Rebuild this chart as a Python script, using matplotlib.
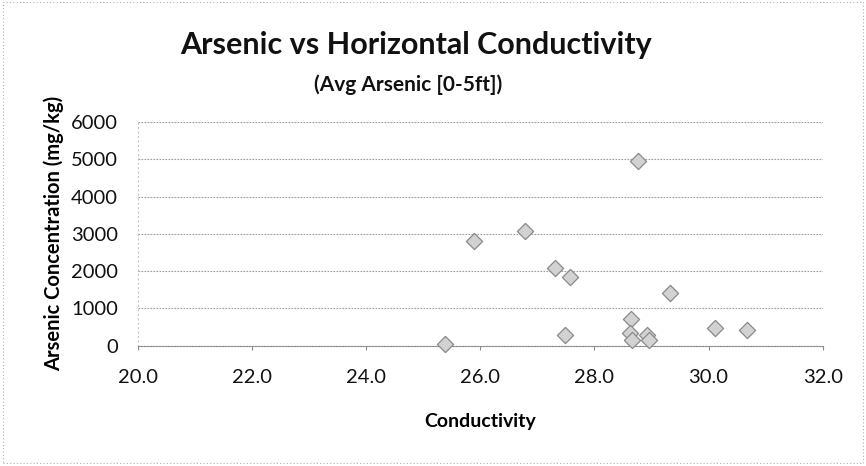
import matplotlib
matplotlib.use("Agg")
import matplotlib.pyplot as plt
from matplotlib.patches import Rectangle

plt.rcParams["font.family"] = ["Lato", "DejaVu Sans"]

# conductivity vs average arsenic (0-5 ft)
conductivity = [25.38, 25.89, 26.78, 27.31, 27.58, 27.48, 28.76, 28.64,
                28.62, 28.66, 28.92, 28.95, 29.32, 30.11, 30.67]
arsenic = [60, 2810, 3080, 2090, 1850, 290, 4950, 720,
           330, 150, 280, 150, 1410, 480, 420]

x_ticks = [20.0, 22.0, 24.0, 26.0, 28.0, 30.0, 32.0]
y_ticks = [0, 1000, 2000, 3000, 4000, 5000, 6000]

fig = plt.figure(figsize=(8.66, 4.66), dpi=100)
ax = fig.add_axes([0.159, 0.258, 0.791, 0.480])

ax.scatter(conductivity, arsenic, marker="D", s=68, facecolor="#d2d2d2",
           edgecolor="#8a8a8a", linewidth=0.9, zorder=3, clip_on=False)

ax.set_xlim(20, 32)
ax.set_ylim(0, 6000)
ax.set_xticks(x_ticks)
ax.set_xticklabels([f"{v:.1f}" for v in x_ticks])
ax.set_yticks(y_ticks)
ax.set_yticklabels([str(v) for v in y_ticks])

# dotted looking gridlines like the scanned excel chart
ax.grid(axis="y", color="#9a9a9a", linestyle=(0, (1.5, 1.2)), linewidth=0.8)
ax.set_axisbelow(True)
for side in ["top", "right"]:
    ax.spines[side].set_visible(False)
ax.spines["left"].set_color("#c8c8c8")
ax.spines["left"].set_linestyle((0, (1, 3)))
ax.spines["left"].set_linewidth(0.8)
ax.spines["bottom"].set_color("#8a8a8a")
ax.spines["bottom"].set_linestyle((0, (1.5, 1.2)))
ax.spines["bottom"].set_linewidth(0.8)

ax.tick_params(axis="y", length=0, pad=14, labelsize=14.5, labelcolor="#111111")
ax.tick_params(axis="x", length=3, color="#8a8a8a", pad=14, labelsize=14.5,
               labelcolor="#111111")

ax.set_xlabel("Conductivity", fontsize=14, fontweight="bold", labelpad=19)
ax.set_ylabel("Arsenic Concentration (mg/kg)", fontsize=14.5, fontweight="bold",
              labelpad=5)

fig.text(0.481, 0.903, "Arsenic vs Horizontal Conductivity", ha="center",
         va="center", fontsize=22, fontweight="bold", color="#111111")
fig.text(0.471, 0.818, "(Avg Arsenic [0-5ft])", ha="center", va="center",
         fontsize=15, fontweight="bold", color="#111111")

# faint frame of the chart area
fig.patches.append(Rectangle((0.003, 0.006), 0.994, 0.99, transform=fig.transFigure,
                             fill=False, edgecolor="#b0b0b0", linewidth=0.8,
                             linestyle=(0, (1, 2))))

fig.savefig("out.png", dpi=100)
